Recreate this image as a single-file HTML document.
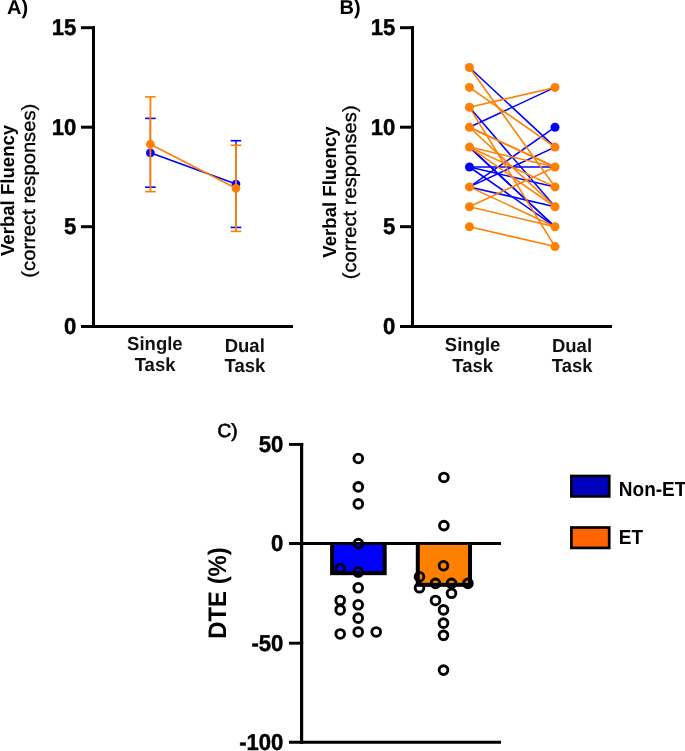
<!DOCTYPE html>
<html><head><meta charset="utf-8"><style>
html,body{margin:0;padding:0;background:#fff;}
svg{display:block;will-change:transform;}
text{font-family:"Liberation Sans",sans-serif;fill:#000;text-rendering:geometricPrecision;}
.tk{font-weight:bold;font-size:23px;stroke:#000;stroke-width:0.45px;}
.xl{font-weight:bold;font-size:18.5px;fill:#111;}
.yt1{font-weight:bold;font-size:18.6px;}
.yt2{font-size:20.2px;stroke:#000;stroke-width:0.35px;}
.pl{font-weight:bold;font-size:20px;}
.yc{font-weight:bold;font-size:25.4px;}
.lg{font-weight:bold;font-size:19px;}
</style></head><body>
<svg width="685" height="751" viewBox="0 0 685 751">
<rect width="685" height="751" fill="#fff"/>
<line x1="93.5" y1="26.2" x2="93.5" y2="327.8" stroke="#000" stroke-width="3"/>
<line x1="81" y1="27.7" x2="95" y2="27.7" stroke="#000" stroke-width="3"/>
<line x1="81" y1="127.2" x2="95" y2="127.2" stroke="#000" stroke-width="3"/>
<line x1="81" y1="226.7" x2="95" y2="226.7" stroke="#000" stroke-width="3"/>
<line x1="81" y1="326.4" x2="293" y2="326.4" stroke="#000" stroke-width="3"/>
<text transform="translate(76.2,35.4) scale(0.96,1)" class="tk" text-anchor="end">15</text>
<text transform="translate(76.2,134.9) scale(0.96,1)" class="tk" text-anchor="end">10</text>
<text transform="translate(76.2,234.4) scale(0.96,1)" class="tk" text-anchor="end">5</text>
<text transform="translate(76.2,333.9) scale(0.96,1)" class="tk" text-anchor="end">0</text>
<text transform="translate(154.85,349.6) scale(1,1.02)" class="xl" text-anchor="middle">Single</text>
<text transform="translate(155.05,370.6) scale(1,1.02)" class="xl" text-anchor="middle">Task</text>
<text transform="translate(244.75,351.6) scale(1,1.02)" class="xl" text-anchor="middle">Dual</text>
<text transform="translate(245,371.5) scale(1,1.02)" class="xl" text-anchor="middle">Task</text>
<text transform="translate(14.2,190.45) rotate(-90) scale(1,1.02)" class="yt1" text-anchor="middle">Verbal Fluency</text>
<text transform="translate(34.7,190.7) rotate(-90) scale(1,0.94)" class="yt2" text-anchor="middle">(correct responses)</text>
<line x1="412.5" y1="26.2" x2="412.5" y2="327.8" stroke="#000" stroke-width="3"/>
<line x1="400" y1="27.7" x2="414" y2="27.7" stroke="#000" stroke-width="3"/>
<line x1="400" y1="127.2" x2="414" y2="127.2" stroke="#000" stroke-width="3"/>
<line x1="400" y1="226.7" x2="414" y2="226.7" stroke="#000" stroke-width="3"/>
<line x1="400" y1="326.4" x2="612" y2="326.4" stroke="#000" stroke-width="3"/>
<text transform="translate(395.2,35.4) scale(0.96,1)" class="tk" text-anchor="end">15</text>
<text transform="translate(395.2,134.9) scale(0.96,1)" class="tk" text-anchor="end">10</text>
<text transform="translate(395.2,234.4) scale(0.96,1)" class="tk" text-anchor="end">5</text>
<text transform="translate(395.2,333.9) scale(0.96,1)" class="tk" text-anchor="end">0</text>
<text transform="translate(472.6,351) scale(1,1.02)" class="xl" text-anchor="middle">Single</text>
<text transform="translate(472.75,371.9) scale(1,1.02)" class="xl" text-anchor="middle">Task</text>
<text transform="translate(572,351.6) scale(1,1.02)" class="xl" text-anchor="middle">Dual</text>
<text transform="translate(572.2,371.5) scale(1,1.02)" class="xl" text-anchor="middle">Task</text>
<text transform="translate(335.7,192.05) rotate(-90) scale(1,1.02)" class="yt1" text-anchor="middle">Verbal Fluency</text>
<text transform="translate(356.2,192.3) rotate(-90) scale(1,0.94)" class="yt2" text-anchor="middle">(correct responses)</text>
<text x="7" y="13.7" class="pl">A)</text>
<text x="339.6" y="13.7" class="pl">B)</text>
<text x="217.6" y="436.9" class="pl" style="font-weight:normal;font-size:19px;stroke:#000;stroke-width:0.7px">C)</text>
<line x1="150.4" y1="118.38" x2="150.4" y2="187.19" stroke="#0000FF" stroke-width="1.3"/>
<line x1="145.1" y1="118.38" x2="155.7" y2="118.38" stroke="#0000FF" stroke-width="1.6"/>
<line x1="145.1" y1="187.19" x2="155.7" y2="187.19" stroke="#0000FF" stroke-width="1.6"/>
<line x1="235.95" y1="140.7" x2="235.95" y2="227.42" stroke="#0000FF" stroke-width="1.3"/>
<line x1="230.65" y1="140.7" x2="241.25" y2="140.7" stroke="#0000FF" stroke-width="1.6"/>
<line x1="230.65" y1="227.42" x2="241.25" y2="227.42" stroke="#0000FF" stroke-width="1.6"/>
<line x1="150.4" y1="152.79" x2="235.95" y2="184.06" stroke="#0000FF" stroke-width="1.6"/>
<circle cx="150.4" cy="152.79" r="4.4" fill="#0000FF"/>
<circle cx="235.95" cy="184.06" r="4.4" fill="#0000FF"/>
<line x1="150.4" y1="96.87" x2="150.4" y2="191.64" stroke="#FF8000" stroke-width="1.8"/>
<line x1="145.1" y1="96.87" x2="155.7" y2="96.87" stroke="#FF8000" stroke-width="1.6"/>
<line x1="145.1" y1="191.64" x2="155.7" y2="191.64" stroke="#FF8000" stroke-width="1.6"/>
<line x1="235.95" y1="145.24" x2="235.95" y2="231.4" stroke="#FF8000" stroke-width="1.8"/>
<line x1="230.65" y1="145.24" x2="241.25" y2="145.24" stroke="#FF8000" stroke-width="1.6"/>
<line x1="230.65" y1="231.4" x2="241.25" y2="231.4" stroke="#FF8000" stroke-width="1.6"/>
<line x1="150.4" y1="144.26" x2="235.95" y2="188.32" stroke="#FF8000" stroke-width="1.6"/>
<circle cx="150.4" cy="144.26" r="4.4" fill="#FF8000"/>
<circle cx="235.95" cy="188.32" r="4.4" fill="#FF8000"/>
<line x1="469.45" y1="186.9" x2="555" y2="127.2" stroke="#0000FF" stroke-width="1.55"/>
<line x1="469.45" y1="186.9" x2="555" y2="147.1" stroke="#0000FF" stroke-width="1.55"/>
<line x1="469.45" y1="127.2" x2="555" y2="87.4" stroke="#0000FF" stroke-width="1.55"/>
<line x1="469.45" y1="167" x2="555" y2="167" stroke="#0000FF" stroke-width="1.55"/>
<line x1="469.45" y1="167" x2="555" y2="186.9" stroke="#0000FF" stroke-width="1.55"/>
<line x1="469.45" y1="186.9" x2="555" y2="206.8" stroke="#0000FF" stroke-width="1.55"/>
<line x1="469.45" y1="67.5" x2="555" y2="147.1" stroke="#0000FF" stroke-width="1.55"/>
<line x1="469.45" y1="167" x2="555" y2="226.7" stroke="#0000FF" stroke-width="1.55"/>
<line x1="469.45" y1="107.3" x2="555" y2="206.8" stroke="#0000FF" stroke-width="1.55"/>
<line x1="469.45" y1="147.1" x2="555" y2="226.7" stroke="#0000FF" stroke-width="1.55"/>
<line x1="469.45" y1="147.1" x2="555" y2="226.7" stroke="#0000FF" stroke-width="1.55"/>
<circle cx="469.45" cy="167" r="4.5" fill="#0000FF"/>
<circle cx="555" cy="127.2" r="4.5" fill="#0000FF"/>
<line x1="469.45" y1="206.8" x2="555" y2="167" stroke="#FF8000" stroke-width="1.55"/>
<line x1="469.45" y1="107.3" x2="555" y2="87.4" stroke="#FF8000" stroke-width="1.55"/>
<line x1="469.45" y1="147.1" x2="555" y2="167" stroke="#FF8000" stroke-width="1.55"/>
<line x1="469.45" y1="206.8" x2="555" y2="226.7" stroke="#FF8000" stroke-width="1.55"/>
<line x1="469.45" y1="127.2" x2="555" y2="167" stroke="#FF8000" stroke-width="1.55"/>
<line x1="469.45" y1="226.7" x2="555" y2="246.6" stroke="#FF8000" stroke-width="1.55"/>
<line x1="469.45" y1="127.2" x2="555" y2="167" stroke="#FF8000" stroke-width="1.55"/>
<line x1="469.45" y1="147.1" x2="555" y2="186.9" stroke="#FF8000" stroke-width="1.55"/>
<line x1="469.45" y1="87.4" x2="555" y2="147.1" stroke="#FF8000" stroke-width="1.55"/>
<line x1="469.45" y1="186.9" x2="555" y2="226.7" stroke="#FF8000" stroke-width="1.55"/>
<line x1="469.45" y1="147.1" x2="555" y2="206.8" stroke="#FF8000" stroke-width="1.55"/>
<line x1="469.45" y1="127.2" x2="555" y2="206.8" stroke="#FF8000" stroke-width="1.55"/>
<line x1="469.45" y1="67.5" x2="555" y2="186.9" stroke="#FF8000" stroke-width="1.55"/>
<line x1="469.45" y1="107.3" x2="555" y2="246.6" stroke="#FF8000" stroke-width="1.55"/>
<circle cx="469.45" cy="226.7" r="4.5" fill="#FF8000"/>
<circle cx="469.45" cy="206.8" r="4.5" fill="#FF8000"/>
<circle cx="469.45" cy="186.9" r="4.5" fill="#FF8000"/>
<circle cx="469.45" cy="147.1" r="4.5" fill="#FF8000"/>
<circle cx="469.45" cy="127.2" r="4.5" fill="#FF8000"/>
<circle cx="469.45" cy="107.3" r="4.5" fill="#FF8000"/>
<circle cx="469.45" cy="87.4" r="4.5" fill="#FF8000"/>
<circle cx="469.45" cy="67.5" r="4.5" fill="#FF8000"/>
<circle cx="555" cy="246.6" r="4.5" fill="#FF8000"/>
<circle cx="555" cy="226.7" r="4.5" fill="#FF8000"/>
<circle cx="555" cy="206.8" r="4.5" fill="#FF8000"/>
<circle cx="555" cy="186.9" r="4.5" fill="#FF8000"/>
<circle cx="555" cy="167" r="4.5" fill="#FF8000"/>
<circle cx="555" cy="147.1" r="4.5" fill="#FF8000"/>
<circle cx="555" cy="87.4" r="4.5" fill="#FF8000"/>
<line x1="301.6" y1="443" x2="301.6" y2="743.7" stroke="#000" stroke-width="3.2"/>
<line x1="289" y1="444.4" x2="303.20000000000005" y2="444.4" stroke="#000" stroke-width="2.9"/>
<line x1="289" y1="643.2" x2="303.20000000000005" y2="643.2" stroke="#000" stroke-width="2.9"/>
<line x1="289" y1="543.5" x2="501" y2="543.5" stroke="#000" stroke-width="2.9"/>
<line x1="289" y1="742.3" x2="501" y2="742.3" stroke="#000" stroke-width="2.9"/>
<text transform="translate(283.4,452.1) scale(0.96,1)" class="tk" text-anchor="end">50</text>
<text transform="translate(283.4,551.2) scale(0.96,1)" class="tk" text-anchor="end">0</text>
<text transform="translate(283.4,650.9) scale(0.96,1)" class="tk" text-anchor="end">-50</text>
<text transform="translate(283.4,750) scale(0.96,1)" class="tk" text-anchor="end">-100</text>
<text transform="translate(226.3,593) rotate(-90) scale(0.94,1)" class="yc" text-anchor="middle">DTE (%)</text>
<rect x="330.1" y="542.1" width="56.6" height="33.07" fill="#000"/>
<rect x="334.1" y="544.9" width="48.6" height="26.27" fill="#0000FF"/>
<rect x="415.8" y="542.1" width="56.2" height="44.73" fill="#000"/>
<rect x="419.8" y="544.9" width="48.2" height="37.93" fill="#FF8000"/>
<circle cx="358.3" cy="458.49" r="4.37" fill="none" stroke="#000" stroke-width="2.85"/>
<circle cx="358.3" cy="486.88" r="4.37" fill="none" stroke="#000" stroke-width="2.85"/>
<circle cx="358.3" cy="503.91" r="4.37" fill="none" stroke="#000" stroke-width="2.85"/>
<circle cx="358.3" cy="543.65" r="4.37" fill="none" stroke="#000" stroke-width="2.85"/>
<circle cx="340.2" cy="568.49" r="4.37" fill="none" stroke="#000" stroke-width="2.85"/>
<circle cx="358.2" cy="572.04" r="4.37" fill="none" stroke="#000" stroke-width="2.85"/>
<circle cx="358.2" cy="587.8" r="4.37" fill="none" stroke="#000" stroke-width="2.85"/>
<circle cx="340.2" cy="600.42" r="4.37" fill="none" stroke="#000" stroke-width="2.85"/>
<circle cx="358.2" cy="604.79" r="4.37" fill="none" stroke="#000" stroke-width="2.85"/>
<circle cx="340.2" cy="609.88" r="4.37" fill="none" stroke="#000" stroke-width="2.85"/>
<circle cx="358.2" cy="618.16" r="4.37" fill="none" stroke="#000" stroke-width="2.85"/>
<circle cx="340.2" cy="633.96" r="4.37" fill="none" stroke="#000" stroke-width="2.85"/>
<circle cx="358.2" cy="631.95" r="4.37" fill="none" stroke="#000" stroke-width="2.85"/>
<circle cx="376.2" cy="631.95" r="4.37" fill="none" stroke="#000" stroke-width="2.85"/>
<circle cx="443.9" cy="477.42" r="4.37" fill="none" stroke="#000" stroke-width="2.85"/>
<circle cx="443.9" cy="525.59" r="4.37" fill="none" stroke="#000" stroke-width="2.85"/>
<circle cx="443.5" cy="565.73" r="4.37" fill="none" stroke="#000" stroke-width="2.85"/>
<circle cx="419.5" cy="576.77" r="4.37" fill="none" stroke="#000" stroke-width="2.85"/>
<circle cx="435.5" cy="583.39" r="4.37" fill="none" stroke="#000" stroke-width="2.85"/>
<circle cx="451.5" cy="583.39" r="4.37" fill="none" stroke="#000" stroke-width="2.85"/>
<circle cx="467.9" cy="583.39" r="4.37" fill="none" stroke="#000" stroke-width="2.85"/>
<circle cx="419.5" cy="587.8" r="4.37" fill="none" stroke="#000" stroke-width="2.85"/>
<circle cx="451.5" cy="593.32" r="4.37" fill="none" stroke="#000" stroke-width="2.85"/>
<circle cx="435.5" cy="600.42" r="4.37" fill="none" stroke="#000" stroke-width="2.85"/>
<circle cx="443.5" cy="609.88" r="4.37" fill="none" stroke="#000" stroke-width="2.85"/>
<circle cx="443.5" cy="623.13" r="4.37" fill="none" stroke="#000" stroke-width="2.85"/>
<circle cx="443.5" cy="635.35" r="4.37" fill="none" stroke="#000" stroke-width="2.85"/>
<circle cx="443.5" cy="670.1" r="4.37" fill="none" stroke="#000" stroke-width="2.85"/>
<rect x="571.4" y="476" width="37.8" height="20.4" fill="#0000BE" stroke="#000" stroke-width="2.7"/>
<rect x="571.4" y="527.5" width="37.8" height="20.4" fill="#FF6400" stroke="#000" stroke-width="2.7"/>
<text transform="translate(618.8,495.9) scale(1,1.07)" class="lg">Non-ET</text>
<text transform="translate(618.8,544.3) scale(1,1.07)" class="lg">ET</text>
</svg>
</body></html>
